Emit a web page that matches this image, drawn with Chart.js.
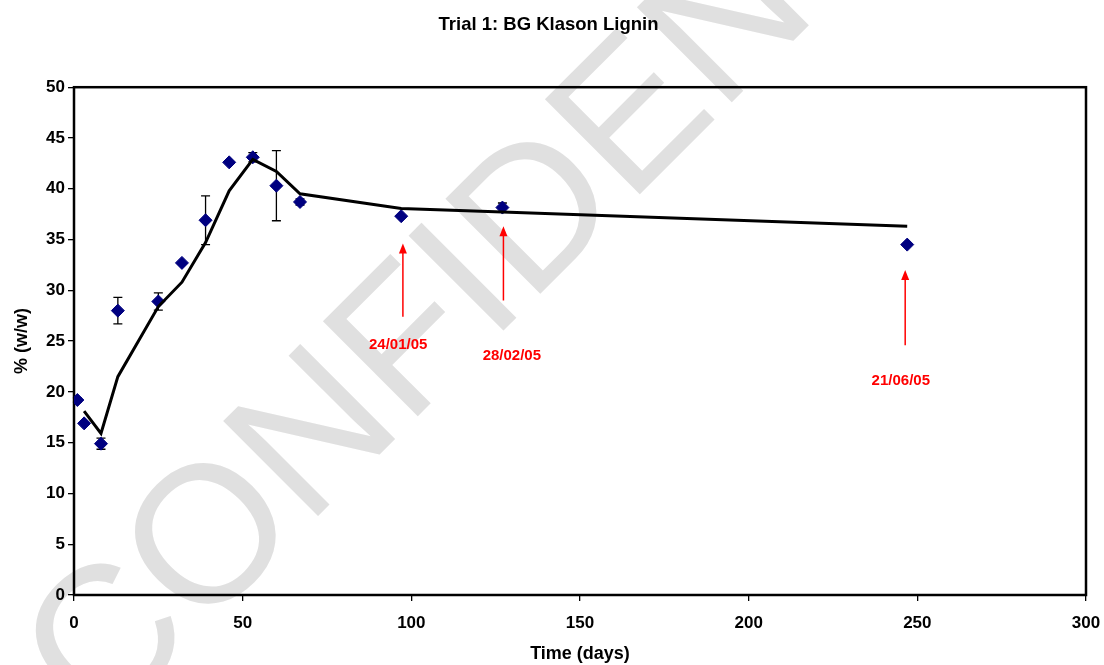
<!DOCTYPE html>
<html>
<head>
<meta charset="utf-8">
<script src="https://cdn.jsdelivr.net/npm/chart.js@4.4.0/dist/chart.umd.min.js"></script>
<style>
  body { margin: 0; background: #fff; }
</style>
</head>
<body>
<canvas id="lignin_chart" width="1104" height="665"></canvas>
<script>
// measured values (days, % w/w)
const days = [1, 3, 8, 13, 25, 32, 39, 46, 53, 60, 67, 97, 127, 247];
const lignin = [19.2, 16.9, 14.9, 28.0, 28.9, 32.7, 36.9, 42.6, 43.1, 40.3, 38.7, 37.3, 38.15, 34.5];
const errors = [0.2, 0, 0.55, 1.3, 0.85, 0, 2.4, 0, 0.45, 3.45, 0.3, 0, 0.45, 0];

// trend line
const trendDays = [3, 8, 13, 25, 32, 39, 46, 53, 60, 67, 97, 127, 247];
const trendValues = [18.1, 15.9, 21.5, 28.4, 30.8, 34.7, 39.8, 42.9, 41.7, 39.5, 38.05, 37.7, 36.3];

// sampling date notes (red arrows)
const noteLabels = ['24/01/05', '28/02/05', '21/06/05'];
const noteDays = [97.5, 127.3, 246.4];
const noteTips = [34.6, 36.3, 32.0];
const noteBases = [27.4, 29.0, 24.6];
const noteLabelDays = [96.1, 129.8, 245.1];
const noteLabelY = [24.6, 23.5, 21.1];

const xTicks = [0, 50, 100, 150, 200, 250, 300];
const yTicks = [0, 5, 10, 15, 20, 25, 30, 35, 40, 45, 50];

const FONT = 'Arial, "Liberation Sans", sans-serif';

let canvas = document.querySelector('#lignin_chart');
let context = canvas.getContext('2d');

// watermark + white background
const watermark = {
    id: 'watermark',
    beforeDraw(chart) {
        const ctx = chart.ctx;
        ctx.save();
        ctx.fillStyle = '#ffffff';
        ctx.fillRect(0, 0, chart.width, chart.height);
        ctx.translate(100, 635);
        ctx.rotate(-Math.PI / 4);
        ctx.font = '195px ' + FONT;
        ctx.fillStyle = '#e0e0e0';
        ctx.textBaseline = 'alphabetic';
        ctx.fillText('CONFIDENTIAL', -70, 70);
        ctx.restore();
    }
};

// plot border + error bars
const frameAndErrors = {
    id: 'frameAndErrors',
    beforeDatasetsDraw(chart) {
        const ctx = chart.ctx;
        const a = chart.chartArea;
        const xs = chart.scales.x;
        const ys = chart.scales.y;
        ctx.save();
        ctx.strokeStyle = '#000';
        ctx.lineWidth = 2.5;
        ctx.strokeRect(a.left, a.top, a.right - a.left, a.bottom - a.top);

        ctx.lineWidth = 1.3;
        for (let i = 0; i < days.length; i++) {
            if (!errors[i]) continue;
            const x = xs.getPixelForValue(days[i]);
            const y1 = ys.getPixelForValue(lignin[i] + errors[i]);
            const y2 = ys.getPixelForValue(lignin[i] - errors[i]);
            ctx.beginPath();
            ctx.moveTo(x, y1); ctx.lineTo(x, y2);
            ctx.moveTo(x - 4.5, y1); ctx.lineTo(x + 4.5, y1);
            ctx.moveTo(x - 4.5, y2); ctx.lineTo(x + 4.5, y2);
            ctx.stroke();
        }
        ctx.restore();
    },
    afterDatasetsDraw(chart) {
        const ctx = chart.ctx;
        const xs = chart.scales.x;
        const ys = chart.scales.y;
        ctx.save();
        ctx.strokeStyle = '#ff0000';
        ctx.fillStyle = '#ff0000';
        ctx.lineWidth = 1.5;
        for (let i = 0; i < noteLabels.length; i++) {
            const x = xs.getPixelForValue(noteDays[i]);
            const tip = ys.getPixelForValue(noteTips[i]);
            const base = ys.getPixelForValue(noteBases[i]);
            ctx.beginPath();
            ctx.moveTo(x, base); ctx.lineTo(x, tip + 8);
            ctx.stroke();
            ctx.beginPath();
            ctx.moveTo(x, tip);
            ctx.lineTo(x - 4, tip + 10);
            ctx.lineTo(x + 4, tip + 10);
            ctx.closePath();
            ctx.fill();

            ctx.font = 'bold 15px ' + FONT;
            ctx.textAlign = 'center';
            ctx.textBaseline = 'middle';
            ctx.fillText(noteLabels[i], xs.getPixelForValue(noteLabelDays[i]), ys.getPixelForValue(noteLabelY[i]));
        }
        ctx.restore();
    }
};

new Chart(context, {
    type: 'scatter',
    data: {
        datasets: [{
            type: 'line',
            data: trendDays.map((d, i) => ({ x: d, y: trendValues[i] })),
            borderColor: '#000',
            borderWidth: 3,
            pointRadius: 0,
            tension: 0,
            fill: false
        }, {
            data: days.map((d, i) => ({ x: d, y: lignin[i] })),
            pointStyle: 'rectRot',
            pointRadius: 6.5,
            backgroundColor: '#000080',
            borderColor: '#000080',
            borderWidth: 1
        }]
    },
    options: {
        responsive: false,
        animation: false,
        layout: { padding: { left: 11, right: 18, top: 0, bottom: 0 } },
        plugins: {
            legend: { display: false },
            tooltip: { enabled: false },
            title: {
                display: true,
                text: 'Trial 1: BG Klason Lignin',
                color: '#000',
                font: { family: FONT, size: 18.5, weight: 'bold' },
                padding: { top: 14, bottom: 51 }
            }
        },
        scales: {
            x: {
                type: 'linear',
                min: 0,
                max: 300,
                afterFit: (scale) => {
                    scale.height = 70;
                    scale.paddingLeft = 0;
                    scale.paddingRight = 0;
                },
                afterBuildTicks: (scale) => { scale.ticks = xTicks.map(v => ({ value: v })); },
                ticks: {
                    color: '#000',
                    padding: 12,
                    font: { family: FONT, size: 17, weight: 'bold' }
                },
                grid: { drawOnChartArea: false, tickLength: 6, tickColor: '#000', lineWidth: 1.3 },
                border: { display: false },
                title: {
                    display: true,
                    text: 'Time (days)',
                    color: '#000',
                    font: { family: FONT, size: 18, weight: 'bold' },
                    padding: { top: 0, bottom: 0 }
                }
            },
            y: {
                min: 0,
                max: 50,
                afterFit: (scale) => {
                    scale.width = 63;
                    scale.paddingTop = 0;
                    scale.paddingBottom = 0;
                },
                afterBuildTicks: (scale) => { scale.ticks = yTicks.map(v => ({ value: v })); },
                ticks: {
                    color: '#000',
                    padding: 3,
                    font: { family: FONT, size: 17, weight: 'bold' }
                },
                grid: { drawOnChartArea: false, tickLength: 6, tickColor: '#000', lineWidth: 1.3 },
                border: { display: false },
                title: {
                    display: true,
                    text: '% (w/w)',
                    color: '#000',
                    font: { family: FONT, size: 18, weight: 'bold' },
                    padding: { top: 0, bottom: 0 }
                }
            }
        }
    },
    plugins: [watermark, frameAndErrors]
});
</script>
</body>
</html>
